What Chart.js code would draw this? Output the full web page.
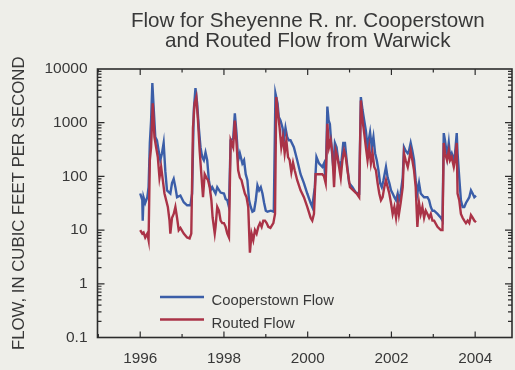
<!DOCTYPE html>
<html>
<head>
<meta charset="utf-8">
<script src="https://cdn.jsdelivr.net/npm/chart.js@4.4.1/dist/chart.umd.min.js"></script>
<style>
  html, body { margin: 0; padding: 0; background: #eeeee9; }
  #wrap { width: 515px; height: 370px; position: relative; }
</style>
</head>
<body>
<div id="wrap"><canvas id="flowChart" width="515" height="370"></canvas></div>
<script>
// Text
const titleLines = ['Flow for Sheyenne R. nr. Cooperstown', 'and Routed Flow from Warwick'];
const yAxisTitle = 'FLOW, IN CUBIC FEET PER SECOND';
const seriesNames = ['Cooperstown Flow', 'Routed Flow'];

// Axis ticks
const yTickValues = [0.1, 1, 10, 100, 1000, 10000];
const xTickYears = [1996, 1998, 2000, 2002, 2004];
const xRange = [1994.98, 2004.88];

// Sheyenne R. near Cooperstown, cubic feet per second
const coopYears = [
  1996.00,1996.05,1996.06,1996.08,1996.12,1996.17,1996.20,1996.23,1996.26,1996.29,1996.32,1996.36,1996.40,1996.44,1996.48,1996.52,1996.56,1996.60,1996.64,1996.72,1996.76,1996.80,1996.84,1996.88,1996.96,
  1997.04,1997.12,1997.20,1997.24,1997.28,1997.32,1997.36,1997.40,1997.44,1997.48,1997.52,1997.56,1997.60,1997.64,1997.68,1997.72,1997.76,1997.80,1997.84,1997.92,
  1998.00,1998.04,1998.08,1998.12,1998.16,1998.22,1998.26,1998.30,1998.34,1998.38,1998.44,1998.48,1998.52,1998.56,1998.60,1998.64,1998.68,1998.72,1998.76,1998.80,1998.84,1998.88,1998.92,1998.96,
  1999.00,1999.04,1999.12,1999.19,1999.23,1999.28,1999.31,1999.35,1999.40,1999.43,1999.47,1999.51,1999.55,1999.59,1999.67,1999.75,1999.83,1999.91,1999.99,
  2000.07,2000.11,2000.17,2000.21,2000.27,2000.35,2000.39,2000.43,2000.47,2000.50,2000.53,2000.57,2000.61,2000.65,2000.69,2000.73,2000.77,2000.81,2000.85,2000.89,2000.93,2000.99,
  2001.07,2001.15,2001.23,2001.27,2001.31,2001.35,2001.39,2001.43,2001.49,2001.53,2001.57,2001.61,2001.65,2001.69,2001.73,2001.77,2001.81,2001.87,2001.91,2001.95,2001.99,
  2002.03,2002.07,2002.11,2002.15,2002.18,2002.22,2002.27,2002.30,2002.34,2002.39,2002.42,2002.46,2002.50,2002.54,2002.58,2002.62,2002.66,2002.70,2002.78,2002.86,2002.90,2002.94,2002.98,
  2003.02,2003.10,2003.18,2003.22,2003.25,2003.28,2003.33,2003.37,2003.40,2003.44,2003.49,2003.52,2003.56,2003.58,2003.62,2003.66,2003.70,2003.74,2003.78,2003.82,2003.86,2003.90,2003.94,2003.98,
  2004.02
];
const coopFlow = [
  48,36,15,41,32,41,63,420,1100,5500,2000,540,470,300,200,270,420,125,55,48,75,90,63,41,44,
  33,29,29,48,1720,4400,2300,800,350,230,200,280,200,85,55,63,55,48,63,50,
  48,38,36,27,470,500,1500,640,200,270,175,200,110,85,36,27,22,23,36,68,55,63,48,32,
  23,22,23,22,3500,2300,1280,1100,800,470,800,540,470,470,350,200,110,75,48,
  32,27,63,230,175,150,175,85,2000,1100,950,350,150,420,350,200,150,200,420,420,200,75,
  63,50,48,3000,1720,1100,710,350,660,350,540,270,200,130,75,63,85,150,95,75,55,
  48,41,36,48,36,48,95,350,300,270,300,420,300,200,85,48,75,48,41,41,36,27,23,
  23,20,17,15,640,470,230,420,230,270,200,270,640,270,95,36,27,27,32,36,41,55,48,41,
  44
];

// Flow routed downstream from Warwick, cubic feet per second
const routedYears = [
  1996.00,1996.05,1996.08,1996.12,1996.17,1996.20,1996.23,1996.26,1996.30,1996.34,1996.38,1996.42,1996.46,1996.50,1996.54,1996.58,1996.62,1996.66,1996.70,1996.72,1996.76,1996.80,1996.84,1996.88,1996.92,1996.96,
  1997.04,1997.12,1997.18,1997.22,1997.26,1997.30,1997.34,1997.38,1997.42,1997.46,1997.50,1997.54,1997.58,1997.62,1997.66,1997.70,1997.73,1997.78,1997.80,1997.84,1997.88,1997.92,1997.96,
  1998.00,1998.04,1998.08,1998.12,1998.16,1998.22,1998.26,1998.30,1998.34,1998.38,1998.42,1998.46,1998.50,1998.54,1998.58,1998.62,1998.66,1998.70,1998.74,1998.78,1998.82,1998.86,1998.90,1998.94,1998.98,
  1999.02,1999.06,1999.11,1999.18,1999.22,1999.25,1999.29,1999.33,1999.37,1999.41,1999.45,1999.49,1999.53,1999.57,1999.61,1999.65,1999.69,1999.75,1999.83,1999.91,1999.99,
  2000.07,2000.11,2000.15,2000.19,2000.27,2000.35,2000.39,2000.43,2000.47,2000.51,2000.55,2000.59,2000.63,2000.67,2000.71,2000.75,2000.79,2000.83,2000.87,2000.91,2000.95,
  2001.01,2001.09,2001.17,2001.23,2001.27,2001.31,2001.35,2001.39,2001.43,2001.47,2001.51,2001.55,2001.59,2001.63,2001.67,2001.71,2001.75,2001.79,2001.83,2001.87,2001.91,2001.95,2001.99,
  2002.03,2002.07,2002.11,2002.15,2002.18,2002.22,2002.27,2002.30,2002.34,2002.39,2002.42,2002.46,2002.50,2002.54,2002.58,2002.62,2002.66,2002.70,2002.74,2002.78,2002.82,2002.86,2002.90,2002.94,2002.98,
  2003.02,2003.10,2003.18,2003.22,2003.25,2003.28,2003.33,2003.37,2003.40,2003.44,2003.49,2003.52,2003.56,2003.58,2003.62,2003.66,2003.70,2003.74,2003.78,2003.82,2003.86,2003.90,2003.94,2003.98,
  2004.02
];
const routedFlow = [
  10,8.6,9,7.3,8.6,6.5,200,350,2300,540,350,230,95,150,85,48,36,27,15,8.6,17,20,27,17,10,11,
  8.6,7.3,7,8.6,800,2300,3000,1100,300,110,41,110,95,85,63,36,17,8.6,11.5,27,23,15,13.5,
  13.5,11.5,8.6,7.3,470,350,1100,420,130,95,85,63,48,41,27,3.8,8.6,6.5,10,8.6,11.5,13.5,11.5,15,15,
  13.5,11.5,11,13.5,20,3000,1500,800,350,540,270,470,230,200,120,180,130,85,55,41,27,
  17,15,20,110,110,110,100,75,950,350,470,270,63,300,230,150,95,200,300,230,130,
  63,55,48,41,2600,1100,640,350,200,350,175,270,150,130,75,48,36,41,63,85,63,48,32,
  20,27,17,32,20,32,63,270,200,150,200,300,200,130,63,11.5,32,20,27,17,23,20,17,20,15,
  15,11.5,10,10,420,270,200,300,200,230,150,200,420,48,36,20,17,15,13.5,15,13.5,19,17,15,
  14
];

const FONT = '"Liberation Sans", Arial, Helvetica, sans-serif';
const TEXT = '#383838';
const INK = '#2c2c2c';
const BLUE = '#3b5ea8';
const RED = '#aa3347';

function toPoints(xs, ys) { return xs.map((x, i) => ({ x: x, y: ys[i] })); }

// Boxed frame with inward tick marks on all four sides
const frameTicks = {
  id: 'frameTicks',
  afterDatasetsDraw(chart) {
    const { ctx, chartArea: a, scales: { x, y } } = chart;
    ctx.save();
    ctx.strokeStyle = INK;
    ctx.lineWidth = 1.2;
    ctx.beginPath();
    for (let e = -1; e <= 3; e++) {
      for (let m = 1; m <= 9; m++) {
        const v = m * Math.pow(10, e);
        const py = y.getPixelForValue(v);
        const len = m === 1 ? 7 : 4;
        ctx.moveTo(a.left, py); ctx.lineTo(a.left + len, py);
        ctx.moveTo(a.right, py); ctx.lineTo(a.right - len, py);
      }
    }
    for (let yr = Math.ceil(x.min); yr <= Math.floor(x.max); yr++) {
      const px = x.getPixelForValue(yr);
      const len = yr % 2 === 0 ? 6 : 3.5;
      ctx.moveTo(px, a.bottom); ctx.lineTo(px, a.bottom - len);
      ctx.moveTo(px, a.top); ctx.lineTo(px, a.top + len);
    }
    ctx.stroke();
    ctx.lineWidth = 1.6;
    ctx.strokeRect(a.left, a.top, a.right - a.left, a.bottom - a.top);
    ctx.restore();
  }
};

// Two-line heading centred over the plot box
const heading = {
  id: 'heading',
  afterDraw(chart) {
    const { ctx, chartArea: a } = chart;
    ctx.save();
    ctx.fillStyle = TEXT;
    ctx.font = '20.6px ' + FONT;
    ctx.textAlign = 'center';
    ctx.textBaseline = 'alphabetic';
    const cx = (a.left + a.right) / 2 + 3;
    ctx.fillText(titleLines[0], cx, 27);
    ctx.fillText(titleLines[1], cx, 46.5);
    ctx.restore();
  }
};

// Key in the lower left of the plot
const key = {
  id: 'key',
  afterDraw(chart) {
    const { ctx } = chart;
    const rows = [[seriesNames[0], BLUE, 297], [seriesNames[1], RED, 319.5]];
    ctx.save();
    ctx.font = '14.8px ' + FONT;
    ctx.textAlign = 'left';
    ctx.textBaseline = 'alphabetic';
    rows.forEach(([label, color, yy]) => {
      ctx.strokeStyle = color;
      ctx.lineWidth = 2.4;
      ctx.beginPath();
      ctx.moveTo(160, yy); ctx.lineTo(204, yy);
      ctx.stroke();
      ctx.fillStyle = TEXT;
      ctx.fillText(label, 211.5, yy + 8);
    });
    ctx.restore();
  }
};

new Chart(document.getElementById('flowChart'), {
  type: 'line',
  data: {
    datasets: [
      { label: seriesNames[0], data: toPoints(coopYears, coopFlow), borderColor: BLUE, borderWidth: 2.4, pointRadius: 0, tension: 0, order: 1 },
      { label: seriesNames[1], data: toPoints(routedYears, routedFlow), borderColor: RED, borderWidth: 2.4, pointRadius: 0, tension: 0, order: 0 }
    ]
  },
  options: {
    responsive: false,
    animation: false,
    devicePixelRatio: 1,
    layout: { padding: { top: 69, right: 3, bottom: 0, left: 0 } },
    plugins: { legend: { display: false }, title: { display: false }, tooltip: { enabled: false } },
    scales: {
      x: {
        type: 'linear',
        min: xRange[0],
        max: xRange[1],
        grid: { display: false, drawTicks: false },
        border: { display: false },
        afterBuildTicks: s => { s.ticks = xTickYears.map(v => ({ value: v })); },
        afterFit: s => { s.height = 32.5; },
        ticks: { padding: 12, autoSkip: false, maxRotation: 0, color: TEXT, font: { family: FONT, size: 15.3 }, callback: v => String(v) }
      },
      y: {
        type: 'logarithmic',
        min: 0.1,
        max: 10000,
        grid: { display: false, drawTicks: false },
        border: { display: false },
        afterBuildTicks: s => { s.ticks = yTickValues.map(v => ({ value: v })); },
        afterFit: s => { s.width = 97.5; },
        ticks: { padding: 10, color: TEXT, font: { family: FONT, size: 15.5 }, callback: v => String(v) },
        title: { display: true, text: yAxisTitle, color: TEXT, font: { family: FONT, size: 16.8 }, padding: { top: 9, bottom: 0 } }
      }
    }
  },
  plugins: [frameTicks, heading, key]
});
</script>
</body>
</html>
